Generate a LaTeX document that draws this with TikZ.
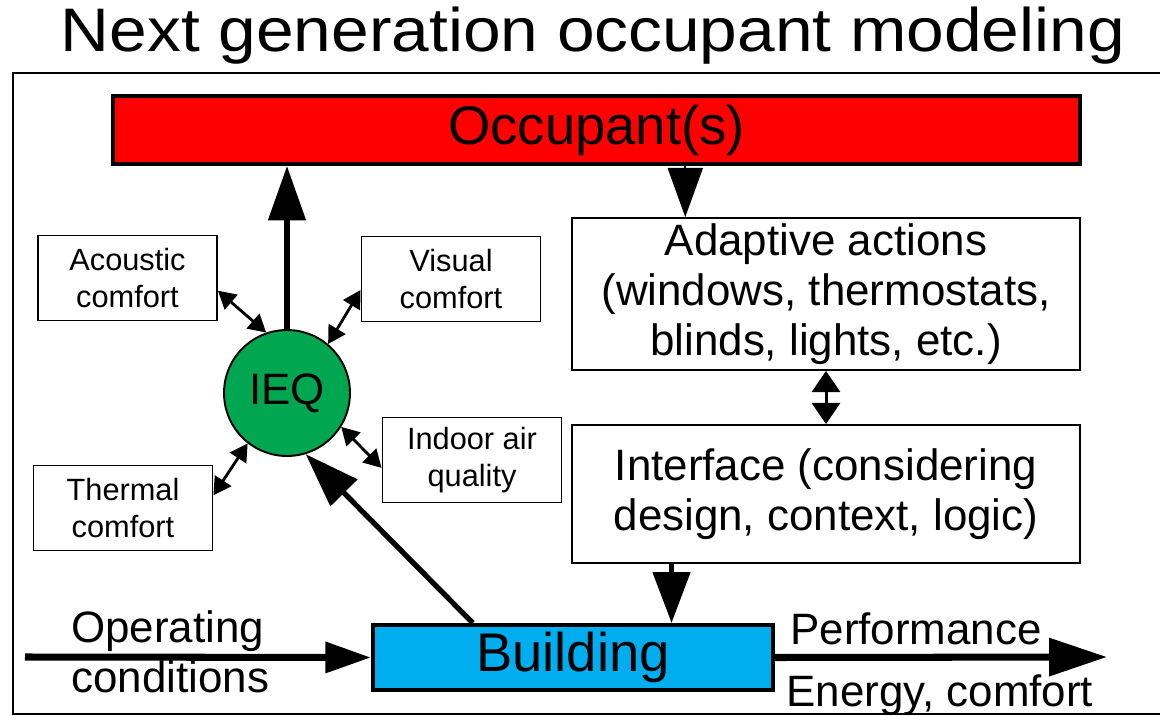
\documentclass[tikz,border=0pt]{standalone}
\usepackage{fontspec}
\setmainfont{Liberation Sans}
\usetikzlibrary{arrows.meta,calc}
\definecolor{occred}{RGB}{255,0,0}
\definecolor{ieqgreen}{RGB}{0,166,80}
\definecolor{bldgblue}{RGB}{0,174,239}

\begin{document}
\begin{tikzpicture}[x=0.02cm,y=-0.02cm,
  box/.style={draw,line width=1.1pt,fill=white,align=center,inner sep=0pt},
  small/.style={box,minimum width=3.58cm,minimum height=1.7cm,font=\fontsize{17.5}{21}\selectfont},
  big/.style={box,minimum width=10.16cm,font=\fontsize{25}{28.5}\selectfont},
  bar/.style={draw,line width=2.3pt,inner sep=0pt,font=\fontsize{31}{35}\selectfont},
  lbl/.style={anchor=base west,inner sep=0pt,font=\fontsize{25}{28}\selectfont},
  fat/.style={line width=3pt,-{Triangle[length=31pt,width=21pt]}},
  dbl/.style={line width=1.6pt,{Triangle[length=10pt,width=11pt]}-{Triangle[length=10pt,width=11pt]}}]
\useasboundingbox (0,0) rectangle (1160,716);
\node (title) at (593,36) {\fontsize{35}{40}\selectfont\scalebox{1.1}[1]{Next generation occupant modeling}};
\draw [line width=1.7pt] (1170,73) -- (13,73) -- (13,714) -- (1170,714);
\node [bar,fill=occred,minimum width=19.34cm,minimum height=1.36cm] (occ) at (596.5,130) {Occupant(s)};
\node [big,minimum height=3.04cm] (adapt) at (826,294) {Adaptive actions\\(windows, thermostats,\\blinds, lights, etc.)};
\node [big,minimum height=2.76cm] (iface) at (826,494) {Interface (considering\\design, context, logic)};
\node [bar,fill=bldgblue,minimum width=8cm,minimum height=1.3cm] (bldg) at (573,657.5) {Building};
\node [circle,draw,line width=1.1pt,fill=ieqgreen,minimum size=2.52cm,inner sep=0pt,font=\fontsize{25}{28}\selectfont] (ieq) at (287,393) {IEQ};
\node [small] (acou) at (127.5,278) {Acoustic\\comfort};
\node [small] (visu) at (451,279) {Visual\\comfort};
\node [small] (therm) at (123,508) {Thermal\\comfort};
\node [small] (iaq) at (472,460) {Indoor air\\quality};
\coordinate (adtop) at ($(adapt.north west)!.224!(adapt.north east)$);
\coordinate (iflow) at ($(iface.south west)!.197!(iface.south east)$);
\coordinate (opin) at (25,657);
\coordinate (perfout) at (1107,657);
\draw [fat] (ieq) -- (ieq |- occ.south);
\draw [fat] (bldg.161) -- (ieq.-73);
\draw [line width=1pt,-{Triangle[length=28pt,width=20pt]}] (adtop |- occ.south) -- (adtop);
\draw [line width=1.7pt,{Triangle[length=12pt,width=16pt]}-{Triangle[length=12pt,width=16pt]}] (adapt.south) -- (iface.north);
\draw [line width=3pt,-{Triangle[length=29pt,width=21pt]}] (iflow) -- (iflow |- bldg.north);
\draw [line width=4pt,-{Triangle[length=26pt,width=17pt]}] (opin) -- (bldg.west);
\draw [line width=4pt,-{Triangle[length=33pt,width=21pt]}] (bldg.east) -- (perfout);
\draw [dbl] (acou.-8) -- (ieq.109);
\draw [dbl] (visu.187) -- (ieq.50);
\draw [dbl] (therm.8) -- (ieq.-128);
\draw [dbl] (iaq.185) -- (ieq.-32);
\node [lbl] (oplbl) at (71,642) {Operating};
\node [lbl] (cndlbl) at (71,692) {conditions};
\node [lbl] (perflbl) at (790,644) {Performance};
\node [lbl] (enlbl) at (786,706) {Energy, comfort};
\end{tikzpicture}
\end{document}
